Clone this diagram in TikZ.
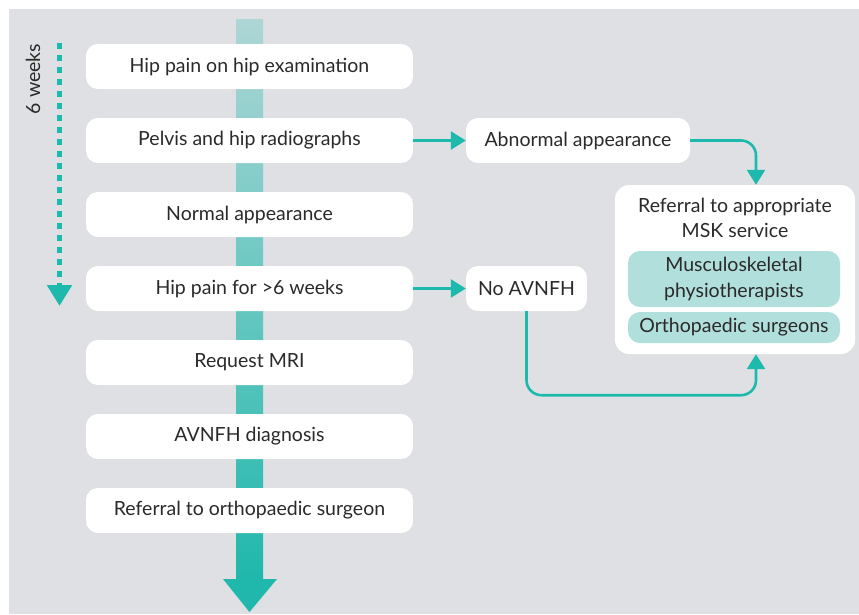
\documentclass[tikz,border=0pt]{standalone}
\usepackage{fontspec}
\setmainfont{Lato}
\usetikzlibrary{arrows.meta}
\definecolor{bg}{HTML}{DFE0E3}
\definecolor{tealc}{HTML}{1DB9AD}
\definecolor{bartop}{HTML}{ADD6D5}
\definecolor{barbot}{HTML}{20B8AC}
\definecolor{innerc}{HTML}{B1DFDB}
\definecolor{txt}{HTML}{2A2A2A}
\tikzset{
  fnt/.style={font=\fontsize{19.5}{25.5}\selectfont},
  stepbox/.style={fill=white, rounded corners=12pt, minimum width=327pt, minimum height=45pt, inner sep=0pt, text=txt, fnt},
  sidebox/.style={fill=white, rounded corners=12pt, minimum height=45pt, inner sep=0pt, text=txt, fnt},
  innerbox/.style={fill=innerc, rounded corners=12pt, minimum width=212pt, inner sep=0pt, text=txt, align=center, fnt},
  arr/.style={draw=tealc, line width=2.6pt, -{Triangle[length=15pt,width=18pt]}},
}
\begin{document}
\begin{tikzpicture}[x=1pt,y=-1pt]
\useasboundingbox (0,0) rectangle (859,614);
\fill[bg] (9,9) rectangle (859,614);
% central timeline arrow
\shade[top color=bartop, bottom color=barbot] (236,19) rectangle (263,579.5);
\fill[barbot] (223,579) -- (277,579) -- (249.5,612) -- cycle;
% steps
\node[stepbox] (s1) at (249.5,66.5) {Hip pain on hip examination};
\node[stepbox] (s2) at (249.5,140.5) {Pelvis and hip radiographs};
\node[stepbox] (s3) at (249.5,214.5) {Normal appearance};
\node[stepbox] (s4) at (249.5,288.5) {Hip pain for >6 weeks};
\node[stepbox] (s5) at (249.5,362.5) {Request MRI};
\node[stepbox] (s6) at (249.5,436.5) {AVNFH diagnosis};
\node[stepbox] (s7) at (249.5,510.5) {Referral to orthopaedic surgeon};
% six weeks
\node[rotate=90, text=txt, fnt] (wk) at (33,79) {6 weeks};
\coordinate (wtop) at (59.5,43);
\coordinate (wend) at (59.5,306);
\draw[draw=tealc, line width=5.5pt, dash pattern=on 6pt off 6pt, -{Triangle[length=21pt,width=24pt]}] (wtop) -- (wend);
% side boxes
\node[sidebox, minimum width=224pt] (abn) at (578,140.5) {Abnormal appearance};
\node[sidebox, minimum width=121pt] (no) at (526.5,288.5) {No AVNFH};
\node[fill=white, rounded corners=14pt, minimum width=240pt, minimum height=169pt, inner sep=0pt] (ref) at (735,269.5) {};
\node[text=txt, align=center, fnt] (reft) at (735,218) {Referral to appropriate\\MSK service};
\node[innerbox, minimum height=56pt] (msk) at (734,279) {Musculoskeletal\\physiotherapists};
\node[innerbox, minimum height=31pt] (ort) at (734,327.5) {Orthopaedic surgeons};
% connectors
\draw[arr] (s2.east) -- (abn.west);
\draw[arr] (s4.east) -- (no.west);
\draw[arr, rounded corners=15pt] (abn.east) -| ([xshift=21pt]ref.north);
\draw[arr, rounded corners=15pt] (no.south) -- ++(0,84) -| ([xshift=21pt]ref.south);
\end{tikzpicture}
\end{document}
